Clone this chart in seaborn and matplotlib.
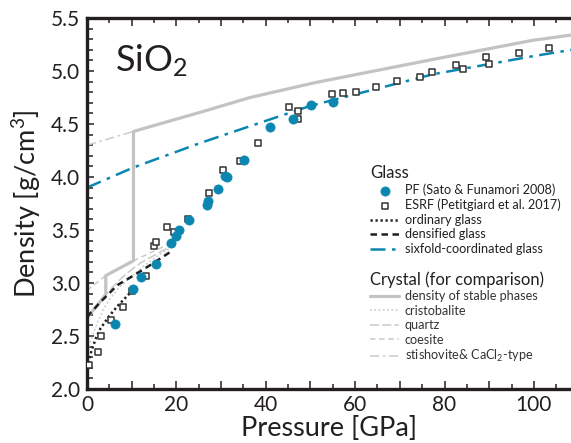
import numpy as np
import pandas as pd
import seaborn as sns
import matplotlib
matplotlib.use("Agg")
import matplotlib.pyplot as plt
from matplotlib.ticker import MultipleLocator, FuncFormatter

# ---------------- data ----------------
pf_pressure = [6.3, 10.4, 12.1, 15.4, 18.8, 19.9, 20.6, 22.9, 26.8, 27.0, 29.4,
               30.9, 31.4, 35.2, 40.9, 46.0, 50.2, 55.0]
pf_density = [2.61, 2.94, 3.06, 3.18, 3.38, 3.44, 3.50, 3.59, 3.74, 3.77, 3.89,
              4.01, 4.00, 4.16, 4.47, 4.55, 4.68, 4.71]

esrf_pressure = [0.5, 2.4, 3.1, 5.4, 8.0, 10.0, 13.1, 15.0, 15.4, 17.8, 19.5, 22.5,
                 27.3, 30.4, 34.2, 38.2, 45.3, 47.3, 47.3, 54.8, 57.2, 60.1, 64.7,
                 69.3, 74.6, 77.2, 82.6, 84.1, 89.2, 90.0, 96.6, 103.4]
esrf_density = [2.23, 2.35, 2.50, 2.65, 2.77, 2.92, 3.07, 3.35, 3.39, 3.53, 3.48, 3.60,
                3.85, 4.07, 4.15, 4.32, 4.66, 4.62, 4.55, 4.78, 4.79, 4.80, 4.85,
                4.91, 4.94, 4.99, 5.06, 5.02, 5.13, 5.07, 5.17, 5.22]

ordinary_p = [0.0, 1.0, 2.0, 3.0, 5.0, 7.0, 10.4]
ordinary_d = [2.20, 2.36, 2.48, 2.57, 2.69, 2.79, 2.94]

densified_p = [0.0, 3.0, 6.8, 10.0, 14.2, 18.9]
densified_d = [2.68, 2.82, 2.98, 3.06, 3.17, 3.30]

sixfold_p = [0.0, 10.4, 25.3, 36.5, 49.9, 77.5, 99.8, 108.5]
sixfold_d = [3.90, 4.09, 4.32, 4.48, 4.67, 4.97, 5.14, 5.20]

stable_p = [0.0, 4.2, 4.2, 10.4, 10.4, 25.3, 36.5, 51.0, 77.5, 99.8, 108.5]
stable_d = [2.67, 2.89, 3.07, 3.21, 4.43, 4.61, 4.75, 4.89, 5.11, 5.29, 5.34]

cristobalite_p = [0.0, 1.0, 2.1, 3.5, 5.1, 7.0, 9.6, 13.0, 16.3, 19.0]
cristobalite_d = [2.32, 2.48, 2.60, 2.74, 2.85, 2.95, 3.05, 3.17, 3.27, 3.34]

quartz_p = [0.0, 4.2, 6.8, 8.9, 12.0, 16.3, 19.0]
quartz_d = [2.67, 2.89, 3.01, 3.09, 3.19, 3.29, 3.35]

coesite_p = [0.0, 4.2, 10.4, 19.0]
coesite_d = [2.93, 3.07, 3.21, 3.38]

stishovite_p = [0.0, 10.4]
stishovite_d = [4.30, 4.43]

# ---------------- style ----------------
sns.set_theme(style="ticks")
plt.rcParams["font.family"] = ["Lato", "DejaVu Sans"]
plt.rcParams["mathtext.fontset"] = "custom"
plt.rcParams["mathtext.rm"] = "Lato"
plt.rcParams["mathtext.it"] = "Lato:italic"

BLUE = "#0b86b1"
GRAY = "#c3c3c3"
LGRAY = "#cacaca"
DARK = "#231f20"

fig = plt.figure(figsize=(5.71, 4.43), dpi=100)
ax = fig.add_axes([87 / 571, 1 - 389 / 443, 1 - 87 / 571, (389 - 18) / 443])

def line(px, py, **kw):
    df = pd.DataFrame({"P": px, "D": py})
    sns.lineplot(data=df, x="P", y="D", sort=False, estimator=None, ax=ax,
                 legend=False, **kw)
    return ax.lines[-1]

# crystal lines
h_crist = line(cristobalite_p, cristobalite_d, color=LGRAY, lw=1.1,
               linestyle=(0, (1.2, 1.6)))
h_quartz = line(quartz_p, quartz_d, color=LGRAY, lw=1.1, linestyle=(0, (6, 2)))
h_coes = line(coesite_p, coesite_d, color=LGRAY, lw=1.1, linestyle=(0, (3.5, 2.5)))
h_stish = line(stishovite_p, stishovite_d, color=LGRAY, lw=1.1,
               linestyle=(0, (6, 2.5, 1.5, 2.5)))
h_stable = line(stable_p, stable_d, color=GRAY, lw=2.3, linestyle="-")

# glass lines
h_ord = line(ordinary_p, ordinary_d, color=DARK, lw=1.8, linestyle=(0, (0.9, 1.1)))
h_dens = line(densified_p, densified_d, color=DARK, lw=1.8, linestyle=(0, (2.6, 1.8)))
h_six = line(sixfold_p, sixfold_d, color=BLUE, lw=1.8,
             linestyle=(0, (6, 2.6, 1.4, 2.6)))

# data points
sns.scatterplot(x=esrf_pressure, y=esrf_density, marker="s", s=15,
                facecolor="white", edgecolor="#333333", linewidth=1.1, ax=ax,
                legend=False, zorder=5)
h_esrf = ax.collections[-1]
sns.scatterplot(x=pf_pressure, y=pf_density, marker="o", s=44, color=BLUE,
                edgecolor=BLUE, linewidth=0.5, ax=ax, legend=False, zorder=6)
h_pf = ax.collections[-1]

# ---------------- axes ----------------
ax.set_xlim(0, 108.3)
ax.set_ylim(2.0, 5.5)
ax.xaxis.set_major_locator(MultipleLocator(10))
ax.xaxis.set_minor_locator(MultipleLocator(5))
ax.xaxis.set_major_formatter(FuncFormatter(
    lambda v, p: f"{int(round(v))}" if int(round(v)) % 20 == 0 else ""))
ax.yaxis.set_major_locator(MultipleLocator(0.5))
ax.yaxis.set_minor_locator(MultipleLocator(0.1))
ax.yaxis.set_major_formatter(FuncFormatter(lambda v, p: f"{v:.1f}"))

for s in ["left", "bottom", "top"]:
    ax.spines[s].set_linewidth(2.4)
    ax.spines[s].set_color(DARK)
ax.spines["right"].set_visible(False)

ax.tick_params(axis="both", which="both", direction="in", color=DARK,
               top=True, right=False, labelsize=15, labelcolor=DARK)
ax.tick_params(axis="x", which="major", length=6, width=1.1, pad=4)
ax.tick_params(axis="x", which="minor", length=3.5, width=1.1)
ax.tick_params(axis="y", which="major", length=5, width=1.1, pad=5)
ax.tick_params(axis="y", which="minor", length=4, width=1.1)

ax.set_xlabel("Pressure [GPa]", fontsize=19.5, color=DARK, labelpad=1)
ax.set_ylabel("Density [g/cm$^3$]", fontsize=19.5, color=DARK, labelpad=6)

ax.text(0.058, 0.856, "SiO$_2$", transform=ax.transAxes, fontsize=26,
        color=DARK, va="baseline", ha="left")

# ---------------- legends ----------------
leg_kw = dict(frameon=False, loc="upper left", borderpad=0, handlelength=2.3,
              handletextpad=0.45, labelspacing=0.2, fontsize=9.1,
              title_fontsize=12, borderaxespad=0)
leg1 = ax.legend([h_pf, h_esrf, h_ord, h_dens, h_six],
                 ["PF (Sato & Funamori 2008)", "ESRF (Petitgiard et al. 2017)",
                  "ordinary glass", "densified glass", "sixfold-coordinated glass"],
                 title="Glass", bbox_to_anchor=(0.585, 0.603), **leg_kw)
leg1._legend_box.align = "left"
for t in leg1.get_texts():
    t.set_color(DARK)
leg1.get_title().set_color(DARK)
ax.add_artist(leg1)

leg2 = ax.legend([h_stable, h_crist, h_quartz, h_coes, h_stish],
                 ["density of stable phases", "cristobalite", "quartz", "coesite",
                  "stishovite& CaCl$_2$-type"],
                 title="Crystal (for comparison)", bbox_to_anchor=(0.585, 0.318),
                 **leg_kw)
leg2._legend_box.align = "left"
for t in leg2.get_texts():
    t.set_color("#333333")
leg2.get_title().set_color(DARK)

fig.savefig("out.png", dpi=100)
